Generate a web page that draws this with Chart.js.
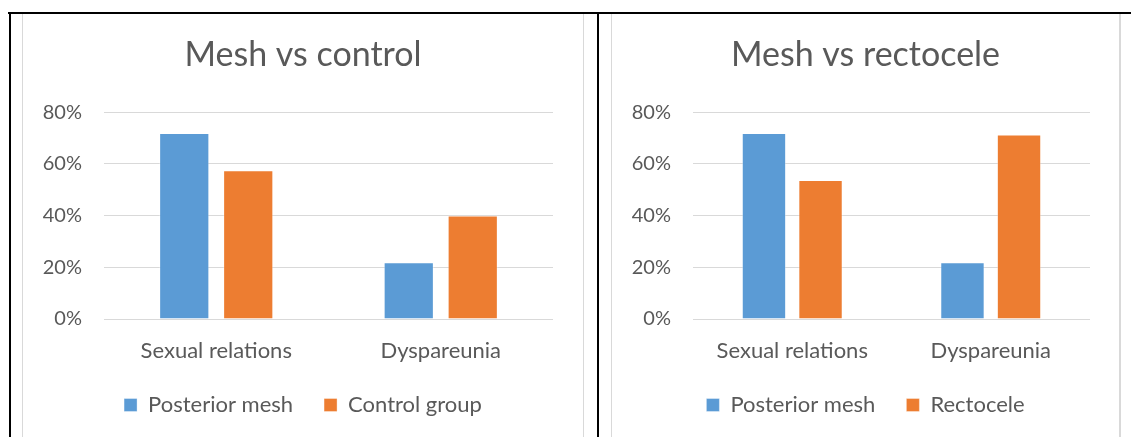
<!DOCTYPE html>
<html>
<head>
<meta charset="utf-8">
<script src="https://cdn.jsdelivr.net/npm/chart.js@4"></script>
<style>
  html, body { margin: 0; padding: 0; background: #fff; }
  body { width: 1131px; height: 437px; position: relative; overflow: hidden; }
  .blk { position: absolute; background: #000; }
  .gry { position: absolute; background: #d9d9d9; }
  canvas { position: absolute; }
</style>
</head>
<body>
<div class="blk" style="left:8px; top:12px; width:1123px; height:2px;"></div>
<div class="blk" style="left:9px; top:12px; width:2px; height:425px;"></div>
<div class="blk" style="left:597px; top:12px; width:2px; height:425px;"></div>
<div class="gry" style="left:22px; top:14px; width:1px; height:423px;"></div>
<div class="gry" style="left:583px; top:14px; width:1px; height:423px;"></div>
<div class="gry" style="left:611px; top:14px; width:1px; height:423px;"></div>
<div class="gry" style="left:1119px; top:14px; width:2px; height:423px;"></div>
<canvas id="c1" width="560" height="423" style="left:23px; top:14px;"></canvas>
<canvas id="c2" width="507" height="423" style="left:612px; top:14px;"></canvas>
<script>
// ---- data ----
const categories = ["Sexual relations", "Dyspareunia"];
const chart1Title = "Mesh vs control";
const chart2Title = "Mesh vs rectocele";
const seriesMeshLabel = "Posterior mesh";
const seriesControlLabel = "Control group";
const seriesRectoceleLabel = "Rectocele";
const meshVsControl_mesh = [72, 22];
const meshVsControl_control = [57.5, 40];
const meshVsRectocele_mesh = [72, 22];
const meshVsRectocele_rectocele = [53.8, 71.4];
const yTicks = [0, 20, 40, 60, 80];

// ---- styling ----
const FONT = 'Lato, "Open Sans", sans-serif';
const TXT = '#595959';
const BLUE = '#5b9bd5';
const ORANGE = '#ed7d31';

function makeChart(id, title, labelA, dataA, labelB, dataB, padRight) {
  return new Chart(document.getElementById(id), {
    type: 'bar',
    data: {
      labels: categories,
      datasets: [
        { label: labelA, data: dataA, backgroundColor: BLUE,
          borderColor: 'rgba(255,255,255,0.35)', borderWidth: 1,
          barPercentage: 0.785, categoryPercentage: 0.57 },
        { label: labelB, data: dataB, backgroundColor: ORANGE,
          borderColor: 'rgba(255,255,255,0.35)', borderWidth: 1,
          barPercentage: 0.785, categoryPercentage: 0.57 }
      ]
    },
    options: {
      responsive: false,
      animation: false,
      devicePixelRatio: 1,
      layout: { padding: { top: 0, left: 0, right: 0, bottom: 11 } },
      plugins: {
        title: {
          display: true, text: title, color: TXT,
          font: { family: FONT, size: 34, weight: 'normal' },
          padding: { top: 21, bottom: 36.4 }
        },
        legend: {
          position: 'bottom',
          labels: {
            color: TXT, boxWidth: 13, boxHeight: 13, padding: 31,
            font: { family: FONT, size: 22 }
          }
        },
        tooltip: { enabled: false }
      },
      scales: {
        x: {
          grid: { display: false, drawTicks: false },
          border: { display: false },
          ticks: { color: TXT, font: { family: FONT, size: 22 }, padding: 19 },
          afterFit: (s) => { s.height = 44; }
        },
        y: {
          min: yTicks[0], max: yTicks[yTicks.length - 1],
          grid: { color: '#d9d9d9', lineWidth: 1, drawTicks: false },
          border: { display: false },
          afterBuildTicks: (s) => { s.ticks = yTicks.map(v => ({ value: v })); },
          ticks: { color: TXT, font: { family: FONT, size: 20 }, padding: 22,
                   callback: (v) => v + '%' },
          afterFit: (s) => { s.width = 81; }
        },
        spacer: {
          type: 'linear', position: 'right', display: true,
          grid: { display: false, drawTicks: false },
          border: { display: false },
          ticks: { display: false },
          afterFit: (s) => { s.width = padRight; }
        }
      }
    }
  });
}

makeChart('c1', chart1Title, seriesMeshLabel, meshVsControl_mesh, seriesControlLabel, meshVsControl_control, 30);
makeChart('c2', chart2Title, seriesMeshLabel, meshVsRectocele_mesh, seriesRectoceleLabel, meshVsRectocele_rectocele, 29);
</script>
</body>
</html>
